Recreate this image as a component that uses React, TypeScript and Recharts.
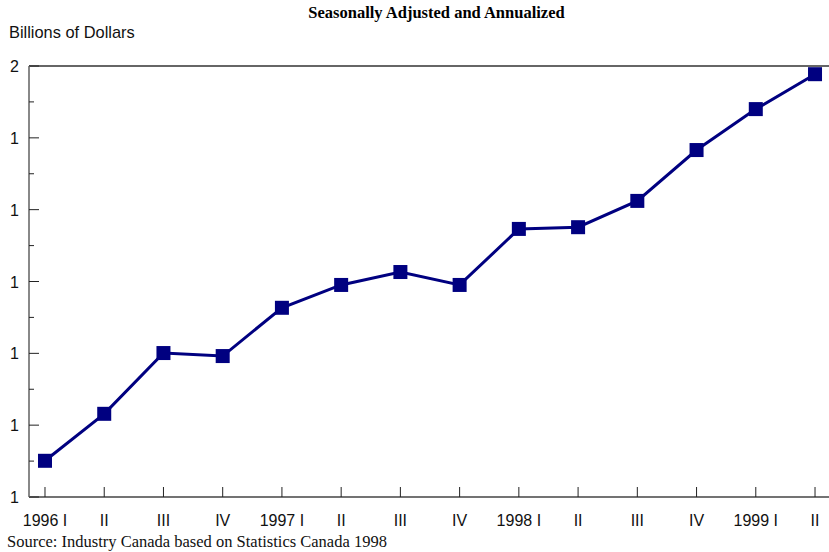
import React from "react"
import { LineChart, Line, XAxis, YAxis, ReferenceLine } from "recharts"

const quarters = [
  "1996 I", "II", "III", "IV",
  "1997 I", "II", "III", "IV",
  "1998 I", "II", "III", "IV",
  "1999 I", "II",
]
const billions = [
  1.084, 1.193, 1.334, 1.327,
  1.439, 1.492, 1.522, 1.492,
  1.622, 1.626, 1.687, 1.805,
  1.9, 1.981,
]
const yTicks = [1, 1.0833, 1.1667, 1.25, 1.3333, 1.4167, 1.5, 1.5833, 1.6667, 1.75, 1.8333, 1.9167, 2]
const yTickLabels = ["1", "", "1", "", "1", "", "1", "", "1", "", "1", "", "2"]

const data = quarters.map((q, i) => ({ idx: i, quarter: q, value: billions[i] }))
const xTicks = quarters.map((_, i) => i)

const sans = "'Liberation Sans', Arial, sans-serif"
const serif = "'Liberation Serif', 'Times New Roman', serif"

function YTick(props: any) {
  const { x, y, index } = props
  const label = yTickLabels[index]
  const major = label !== ""
  return (
    <g>
      <line x1={x} y1={y} x2={x + (major ? 10 : 5)} y2={y} stroke="#222" strokeWidth={1} />
      {major && (
        <text x={x - 10} y={y} dy={6} textAnchor="end" fontSize={16} fontFamily={sans} fill="#111">
          {label}
        </text>
      )}
    </g>
  )
}

function XTick(props: any) {
  const { x, y, payload } = props
  return (
    <g>
      <line x1={x} y1={y} x2={x} y2={y - 10} stroke="#222" strokeWidth={1} />
      <text x={x} y={y + 29} textAnchor="middle" fontSize={16} fontFamily={sans} fill="#111">
        {quarters[payload.value]}
      </text>
    </g>
  )
}

function SquareDot(props: any) {
  const { cx, cy } = props
  if (cx == null || cy == null) return null
  return <rect x={cx - 7} y={cy - 7} width={14} height={14} fill="#000080" />
}

export default function App() {
  return (
    <div style={{ position: "absolute", left: 0, top: 0, width: 829, height: 552, background: "#fff" }}>
      <div
        style={{
          position: "absolute", left: 0, width: 873, top: 3, textAlign: "center",
          fontFamily: serif, fontWeight: "bold", fontSize: 16.5, color: "#000",
        }}
      >
        Seasonally Adjusted and Annualized
      </div>
      <div style={{ position: "absolute", left: 9, top: 23, fontFamily: sans, fontSize: 16.4, color: "#111" }}>
        Billions of Dollars
      </div>
      <LineChart width={829} height={552} data={data} margin={{ top: 66, right: 0, bottom: 0, left: 0 }}>
        <XAxis
          dataKey="idx"
          type="number"
          domain={[-0.27, 13.236]}
          ticks={xTicks}
          allowDataOverflow
          height={55}
          interval={0}
          tickSize={0}
          tickMargin={0}
          tickLine={false}
          axisLine={{ stroke: "#444", strokeWidth: 1.5 }}
          tick={<XTick />}
        />
        <YAxis
          width={29}
          domain={[1, 2]}
          ticks={yTicks}
          interval={0}
          allowDataOverflow
          tickSize={0}
          tickMargin={0}
          tickLine={false}
          axisLine={{ stroke: "#888", strokeWidth: 2 }}
          tick={<YTick />}
        />
        <ReferenceLine y={2} stroke="#333" strokeWidth={1.5} />
        <Line
          type="linear"
          dataKey="value"
          stroke="#000080"
          strokeWidth={3}
          dot={<SquareDot />}
          activeDot={false}
          isAnimationActive={false}
        />
      </LineChart>
      <div style={{ position: "absolute", left: 7, top: 532, fontFamily: serif, fontSize: 16.5, color: "#111" }}>
        Source: Industry Canada based on Statistics Canada 1998
      </div>
    </div>
  )
}
